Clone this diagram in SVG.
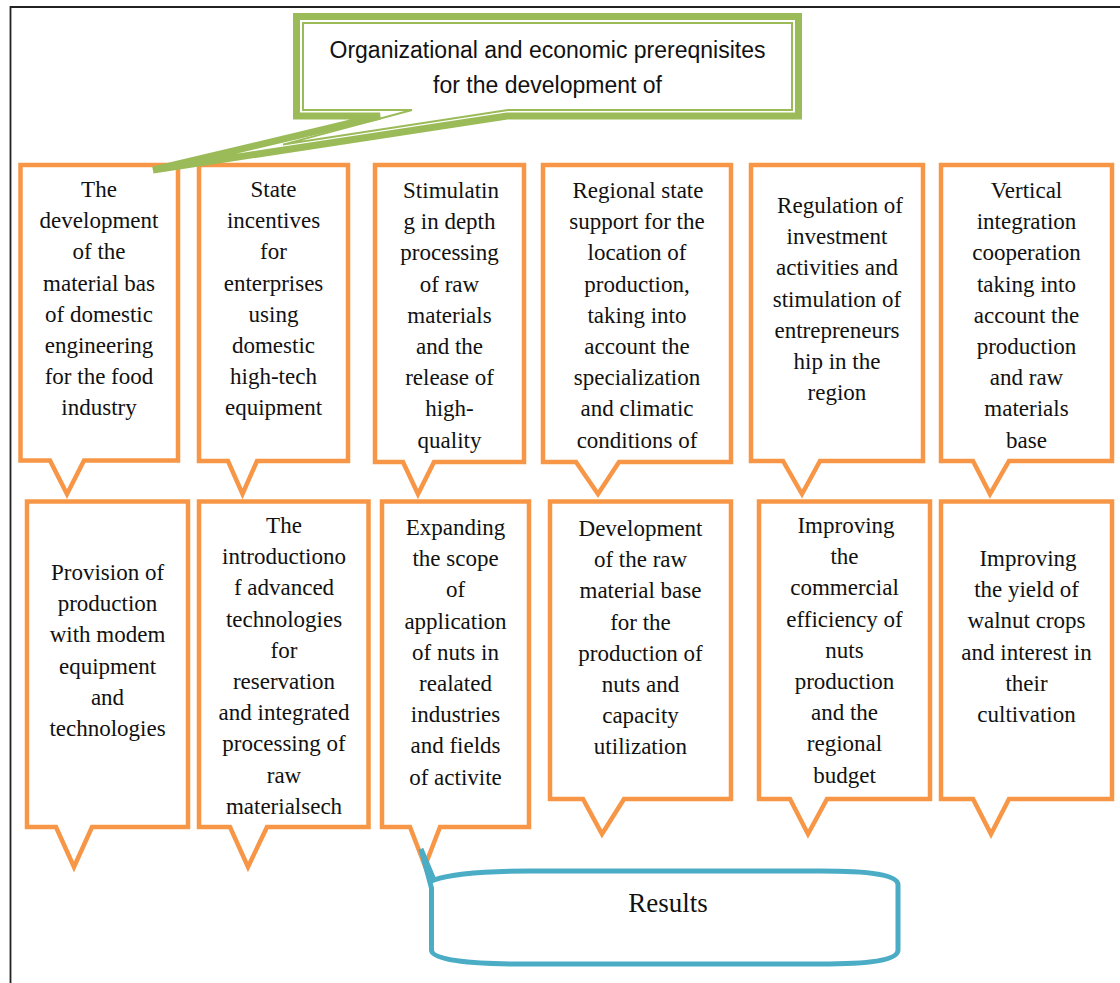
<svg xmlns="http://www.w3.org/2000/svg" width="1120" height="983" viewBox="0 0 1120 983">
<style>
.box{fill:#fff;stroke:#F79646;stroke-width:4.5;stroke-linejoin:miter}
.t{font-family:"Liberation Serif","Times New Roman",serif;font-size:23px;fill:#111;text-anchor:middle}
.g{font-family:"Liberation Sans",Arial,sans-serif;font-size:23px;fill:#111;text-anchor:middle}
</style>
<rect width="1120" height="983" fill="#fff"/>
<path d="M10.5,983 V7 H1120" fill="none" stroke="#222" stroke-width="1.8"/>

<g id="n1"><path class="box" d="M20.5,165 H178 V460.5 H84 L67,494 L50,460.5 H20.5 Z"/>
<text class="t" y="197"><tspan x="99">The</tspan><tspan x="99" dy="31.2">development</tspan><tspan x="99" dy="31.2">of the</tspan><tspan x="99" dy="31.2">material bas</tspan><tspan x="99" dy="31.2">of domestic</tspan><tspan x="99" dy="31.2">engineering</tspan><tspan x="99" dy="31.2">for the food</tspan><tspan x="99" dy="31.2">industry</tspan></text></g>

<g id="n2"><path class="box" d="M199,165 H348 V461 H257 L242.5,494 L228,461 H199 Z"/>
<text class="t" y="197"><tspan x="273.5">State</tspan><tspan x="273.5" dy="31.2">incentives</tspan><tspan x="273.5" dy="31.2">for</tspan><tspan x="273.5" dy="31.2">enterprises</tspan><tspan x="273.5" dy="31.2">using</tspan><tspan x="273.5" dy="31.2">domestic</tspan><tspan x="273.5" dy="31.2">high-tech</tspan><tspan x="273.5" dy="31.2">equipment</tspan></text></g>

<g id="n3"><path class="box" d="M375,165 H524 V462 H434 L418,494 L403,462 H375 Z"/>
<text class="t" y="198"><tspan x="451">Stimulatin</tspan><tspan x="449.5" dy="31.2">g in depth</tspan><tspan x="449.5" dy="31.2">processing</tspan><tspan x="449.5" dy="31.2">of raw</tspan><tspan x="449.5" dy="31.2">materials</tspan><tspan x="449.5" dy="31.2">and the</tspan><tspan x="449.5" dy="31.2">release of</tspan><tspan x="449.5" dy="31.2">high-</tspan><tspan x="449.5" dy="31.2">quality</tspan></text></g>

<g id="n4"><path class="box" d="M543,165 H731 V462 H619 L598,494 L576,462 H543 Z"/>
<text class="t" y="198"><tspan x="638">Regional state</tspan><tspan x="637" dy="31.2">support for the</tspan><tspan x="637" dy="31.2">location of</tspan><tspan x="637" dy="31.2">production,</tspan><tspan x="637" dy="31.2">taking into</tspan><tspan x="637" dy="31.2">account the</tspan><tspan x="637" dy="31.2">specialization</tspan><tspan x="637" dy="31.2">and climatic</tspan><tspan x="637" dy="31.2">conditions of</tspan></text></g>

<g id="n5"><path class="box" d="M751,165 H923 V461 H820 L802,494 L783,461 H751 Z"/>
<text class="t" y="213"><tspan x="840">Regulation of</tspan><tspan x="837" dy="31.2">investment</tspan><tspan x="837" dy="31.2">activities and</tspan><tspan x="837" dy="31.2">stimulation of</tspan><tspan x="837" dy="31.2">entrepreneurs</tspan><tspan x="837" dy="31.2">hip in the</tspan><tspan x="837" dy="31.2">region</tspan></text></g>

<g id="n6"><path class="box" d="M941,165 H1112 V461 H1009 L990,494 L973,461 H941 Z"/>
<text class="t" y="198"><tspan x="1026.5">Vertical</tspan><tspan x="1026.5" dy="31.2">integration</tspan><tspan x="1026.5" dy="31.2">cooperation</tspan><tspan x="1026.5" dy="31.2">taking into</tspan><tspan x="1026.5" dy="31.2">account the</tspan><tspan x="1026.5" dy="31.2">production</tspan><tspan x="1026.5" dy="31.2">and raw</tspan><tspan x="1026.5" dy="31.2">materials</tspan><tspan x="1026.5" dy="31.2">base</tspan></text></g>

<g id="n7"><path class="box" d="M27,501.5 H188 V827 H92 L74,867 L56,827 H27 Z"/>
<text class="t" y="580"><tspan x="107.5">Provision of</tspan><tspan x="107.5" dy="31.2">production</tspan><tspan x="107.5" dy="31.2">with modem</tspan><tspan x="107.5" dy="31.2">equipment</tspan><tspan x="107.5" dy="31.2">and</tspan><tspan x="107.5" dy="31.2">technologies</tspan></text></g>

<g id="n8"><path class="box" d="M199,501.5 H368.5 V827 H267 L248,867 L230,827 H199 Z"/>
<text class="t" y="533"><tspan x="284">The</tspan><tspan x="284" dy="31.2">introductiono</tspan><tspan x="284" dy="31.2">f advanced</tspan><tspan x="284" dy="31.2">technologies</tspan><tspan x="284" dy="31.2">for</tspan><tspan x="284" dy="31.2">reservation</tspan><tspan x="284" dy="31.2">and integrated</tspan><tspan x="284" dy="31.2">processing of</tspan><tspan x="284" dy="31.2">raw</tspan><tspan x="284" dy="31.2">materialsech</tspan></text></g>

<g id="n9"><path class="box" d="M382,501.5 H529 V827 H440 L425,866 L410,827 H382 Z"/>
<text class="t" y="535"><tspan x="455.5">Expanding</tspan><tspan x="455.5" dy="31.2">the scope</tspan><tspan x="455.5" dy="31.2">of</tspan><tspan x="455.5" dy="31.2">application</tspan><tspan x="455.5" dy="31.2">of nuts in</tspan><tspan x="455.5" dy="31.2">realated</tspan><tspan x="455.5" dy="31.2">industries</tspan><tspan x="455.5" dy="31.2">and fields</tspan><tspan x="455.5" dy="31.2">of activite</tspan></text></g>

<g id="n10"><path class="box" d="M550,501.5 H731 V799 H624 L602,834 L583,799 H550 Z"/>
<text class="t" y="536"><tspan x="640.5">Development</tspan><tspan x="640.5" dy="31.2">of the raw</tspan><tspan x="640.5" dy="31.2">material base</tspan><tspan x="640.5" dy="31.2">for the</tspan><tspan x="640.5" dy="31.2">production of</tspan><tspan x="640.5" dy="31.2">nuts and</tspan><tspan x="640.5" dy="31.2">capacity</tspan><tspan x="640.5" dy="31.2">utilization</tspan></text></g>

<g id="n11"><path class="box" d="M759,501.5 H930 V799 H827 L808,834 L790,799 H759 Z"/>
<text class="t" y="533"><tspan x="846">Improving</tspan><tspan x="844.5" dy="31.2">the</tspan><tspan x="844.5" dy="31.2">commercial</tspan><tspan x="844.5" dy="31.2">efficiency of</tspan><tspan x="844.5" dy="31.2">nuts</tspan><tspan x="844.5" dy="31.2">production</tspan><tspan x="844.5" dy="31.2">and the</tspan><tspan x="844.5" dy="31.2">regional</tspan><tspan x="844.5" dy="31.2">budget</tspan></text></g>

<g id="n12"><path class="box" d="M941,501.5 H1112 V799 H1009 L991,834 L973,799 H941 Z"/>
<text class="t" y="566"><tspan x="1028">Improving</tspan><tspan x="1026.5" dy="31.2">the yield of</tspan><tspan x="1026.5" dy="31.2">walnut crops</tspan><tspan x="1026.5" dy="31.2">and interest in</tspan><tspan x="1026.5" dy="31.2">their</tspan><tspan x="1026.5" dy="31.2">cultivation</tspan></text></g>

<g id="results"><path d="M421,849 L434,880 C455,872.5 490,871 530,871 H820 C870,871 898,875 898,885 V950 C898,960 870,964 820,964 H520 C470,964 431.5,960 431.5,950 V888 Z" fill="#fff" stroke="#4BACC6" stroke-width="5" stroke-linejoin="miter" stroke-miterlimit="12"/>
<text x="668" y="912" font-family="Liberation Serif,'Times New Roman',serif" font-size="27" fill="#111" text-anchor="middle">Results</text></g>

<g id="title"><path d="M296.5,16.5 H798.5 V116 H507 L153,170 L380,116 H296.5 Z" fill="#fff" stroke="#9BBB59" stroke-width="7" stroke-linejoin="miter"/>
<path d="M303,23 H792 V110 H508 L283,144.6 L412,110 H303 Z" fill="none" stroke="#9BBB59" stroke-width="2"/>
<text class="g" y="58"><tspan x="547.5">Organizational and economic prereqnisites</tspan><tspan x="547.5" dy="35">for the development of</tspan></text></g>

<g id="connectors"></g>
</svg>
